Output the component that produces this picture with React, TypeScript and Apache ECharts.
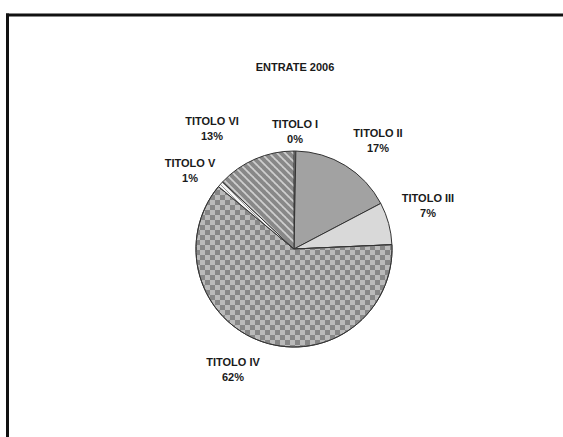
import React, { useEffect, useRef } from 'react';
import * as echarts from 'echarts';

const chartTitle = 'ENTRATE 2006';
const categories = ['TITOLO I', 'TITOLO II', 'TITOLO III', 'TITOLO IV', 'TITOLO V', 'TITOLO VI'];
const shares = [0.3, 17, 7, 61.7, 1, 13];

// label centres (layout only)
const labelCenters: [number, number][] = [
  [295, 131],
  [378, 140],
  [428, 205],
  [233, 369],
  [190, 170],
  [212, 128],
];

const FONT = '"Liberation Sans", Arial, sans-serif';

function stripeTile(size: number, bg: string, fg: string, lw: number) {
  const c = document.createElement('canvas');
  c.width = size;
  c.height = size;
  const ctx = c.getContext('2d')!;
  ctx.fillStyle = bg;
  ctx.fillRect(0, 0, size, size);
  ctx.strokeStyle = fg;
  ctx.lineWidth = lw;
  for (let k = -1; k <= 1; k++) {
    ctx.beginPath();
    ctx.moveTo(k * size - 1, -1);
    ctx.lineTo(k * size + size + 1, size + 1);
    ctx.stroke();
  }
  return c;
}

export default function App() {
  const ref = useRef<HTMLDivElement>(null);
  useEffect(() => {
    if (!ref.current) return;
    document.documentElement.style.overflow = 'hidden';
    document.body.style.overflow = 'hidden';
    document.body.style.margin = '0';
    const sliceStyles: any[] = [
      { color: '#e6e6e6' },
      { color: '#a2a2a2' },
      { color: '#d9d9d9' },
      {
        color: '#bababa',
        decal: {
          symbol: 'rect',
          symbolSize: 1,
          color: '#878787',
          dashArrayX: [[5, 5], [0, 5, 5, 0]],
          dashArrayY: [5, 0],
          rotation: 0,
        },
      },
      { color: { image: stripeTile(4, '#f4f4f4', '#9a9a9a', 1), repeat: 'repeat' } },
      { color: { image: stripeTile(8, '#cfcfcf', '#888888', 4), repeat: 'repeat' } },
    ];
    const chart = echarts.init(ref.current, undefined, { renderer: 'svg' });
    chart.setOption({
      animation: false,
      backgroundColor: '#ffffff',
      graphic: [
        {
          type: 'line',
          shape: { x1: 7.5, y1: 13.5, x2: 7.5, y2: 440 },
          style: { stroke: '#111111', lineWidth: 3 },
          silent: true,
        },
        {
          type: 'line',
          shape: { x1: 6, y1: 15, x2: 570, y2: 15 },
          style: { stroke: '#111111', lineWidth: 3 },
          silent: true,
        },
        {
          type: 'text',
          x: 295,
          y: 67,
          style: {
            text: chartTitle,
            fill: '#1a1a1a',
            font: `bold 11px ${FONT}`,
            textAlign: 'center',
            textVerticalAlign: 'middle',
          },
        },
      ],
      series: [
        {
          type: 'pie',
          center: [294, 249],
          radius: [0, 98],
          startAngle: 90,
          clockwise: true,
          percentPrecision: 0,
          avoidLabelOverlap: false,
          itemStyle: { borderColor: '#333333', borderWidth: 1 },
          label: {
            show: true,
            position: 'outside',
            formatter: '{b}\n{d}%',
            color: '#1a1a1a',
            fontFamily: FONT,
            fontWeight: 'bold',
            fontSize: 11,
            lineHeight: 15,
            align: 'center',
          },
          labelLine: { show: false },
          labelLayout: (params: any) => {
            const p = labelCenters[params.dataIndex];
            return { x: p[0], y: p[1], align: 'center', verticalAlign: 'middle' };
          },
          emphasis: { disabled: true },
          data: categories.map((name, i) => ({
            name,
            value: shares[i],
            itemStyle: sliceStyles[i],
          })),
        },
      ],
    });
    return () => chart.dispose();
  }, []);
  return (
    <div
      ref={ref}
      style={{ position: 'absolute', left: 0, top: 0, width: 563, height: 437 }}
    />
  );
}
